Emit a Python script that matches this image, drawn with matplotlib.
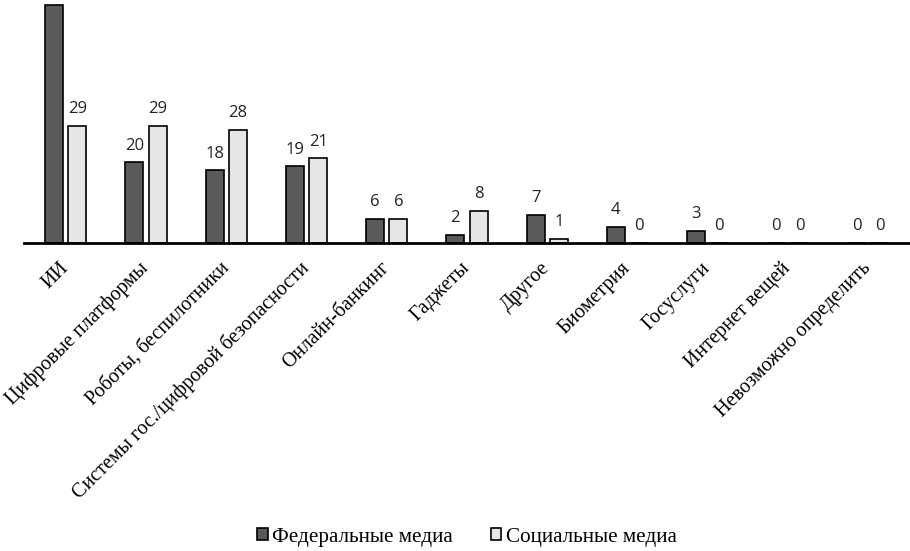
import numpy as np
import matplotlib
matplotlib.use("Agg")
import matplotlib.pyplot as plt

# Данные
categories = ["ИИ", "Цифровые платформы", "Роботы, беспилотники",
              "Системы гос./цифровой безопасности", "Онлайн-банкинг",
              "Гаджеты", "Другое", "Биометрия", "Госуслуги",
              "Интернет вещей", "Невозможно определить"]
federal = [59, 20, 18, 19, 6, 2, 7, 4, 3, 0, 0]
social = [29, 29, 28, 21, 6, 8, 1, 0, 0, 0, 0]
series_names = ["Федеральные медиа", "Социальные медиа"]

fig = plt.figure(figsize=(9.1, 5.51), dpi=100)
ax = fig.add_axes([24 / 910, 1 - 243 / 551, 886 / 910, 243 / 551])

x = np.arange(len(categories))
w = 0.225
off = 0.145
b1 = ax.bar(x - off, federal, w, color="#5a5a5a", edgecolor="black", linewidth=1.2,
            label=series_names[0])
b2 = ax.bar(x + off, social, w, color="#e6e6e6", edgecolor="black", linewidth=1.2,
            label=series_names[1])

# подписи значений (у первого столбца подпись уходит за верхний край, как в оригинале)
num_font = dict(fontsize=12, family="Open Sans", color="#222222")
for bars, vals in ((b1, federal), (b2, social)):
    for r, v in zip(bars, vals):
        ax.text(r.get_x() + r.get_width() / 2, v + 2.2, str(v), ha="center",
                va="bottom", **num_font)

ax.set_xlim(-0.52, len(categories) - 0.48)
ax.set_ylim(0, 60.3)
for s in ["top", "right", "left"]:
    ax.spines[s].set_visible(False)
ax.spines["bottom"].set_linewidth(2)
ax.set_yticks([])
ax.set_xticks(x)
ax.set_xticklabels(categories, rotation=45, ha="right", va="center",
                   rotation_mode="anchor", family="Liberation Serif", fontsize=14.5)
ax.tick_params(axis="x", length=0, pad=16)

fig.legend(loc="lower center", bbox_to_anchor=(0.513, -0.027), ncol=2, frameon=False,
           prop={"family": "Liberation Serif", "size": 15.2}, handlelength=0.5,
           handleheight=0.5, handletextpad=0.2, columnspacing=1.8)

fig.savefig("out.png", dpi=100)
